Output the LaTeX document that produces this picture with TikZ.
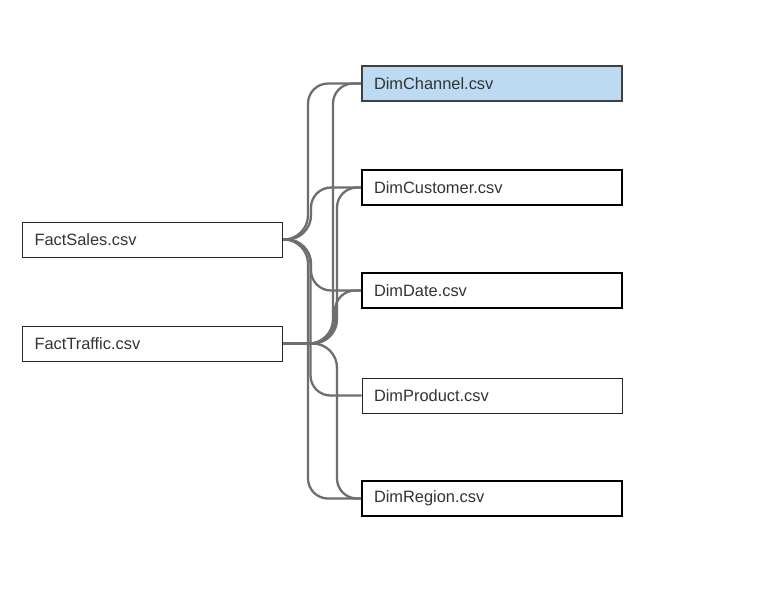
\documentclass[tikz,border=0pt]{standalone}
\usepackage{fontspec}
\setmainfont{Liberation Sans}
\usetikzlibrary{backgrounds,shadows,calc}
\definecolor{linkgray}{HTML}{6E6E6E}
\definecolor{selblue}{HTML}{BDDAF2}
\definecolor{txtgray}{HTML}{333333}
% #1 fact node, #2 dim node, #3 x offset of the vertical run from the dim's west side, #4 = 1 down / -1 up
\newcommand\tablelink[4]{%
  \path ($(#2.west |- #1.east)+({#3},0)$) coordinate (#1#2corner);
  \draw[link] (#1.east)
    -- ($(#1#2corner)+(-24,0)$)
    .. controls ($(#1#2corner)+(-11,0)$) and ($(#1#2corner)+(0,{#4*11})$)
    .. ($(#1#2corner)+(0,{#4*24})$)
    -- ($(#2.west)+({#3},{-20*#4})$)
    .. controls ($(#2.west)+({#3},{-9*#4})$) and ($(#2.west)+({#3+9},0)$)
    .. ($(#2.west)+({#3+20},0)$)
    -- (#2.west);}
\begin{document}
\begin{tikzpicture}[x=1pt,y=-1pt,
  tblbase/.style={rectangle, minimum height=35pt, text width=236pt, align=left,
    inner xsep=12pt, inner ysep=0pt, font=\fontsize{16.4}{19}\selectfont,
    text=txtgray, fill=white,
    drop shadow={shadow xshift=0.6pt, shadow yshift=-1.2pt, opacity=0.18, fill=black}},
  thinbox/.style={tblbase, draw=black!85, line width=1pt},
  thickbox/.style={tblbase, draw=black, line width=2pt},
  selbox/.style={thickbox, draw=black!75, fill=selblue},
  link/.style={draw=linkgray, line width=2.3pt}]
\useasboundingbox (0,0) rectangle (757,590);

\node[thinbox]  (fs) at (152.5,239.5) {FactSales.csv};
\node[thinbox]  (ft) at (152.5,343.5) {FactTraffic.csv};
\node[selbox]   (ch) at (492,83.5)  {DimChannel.csv};
\node[thickbox] (cu) at (492,187.5) {DimCustomer.csv};
\node[thickbox] (dt) at (492,290.5) {DimDate.csv};
\node[thinbox]  (pr) at (492,395.5) {DimProduct.csv};
\node[thickbox] (rg) at (492,498.5) {DimRegion.csv};

\begin{scope}[on background layer]
  \fill[white] (0,0) rectangle (757,590);
  % FactSales links
  \tablelink{fs}{ch}{-53}{-1}
  \tablelink{fs}{cu}{-50}{-1}
  \tablelink{fs}{dt}{-50}{1}
  \tablelink{fs}{pr}{-51}{1}
  \tablelink{fs}{rg}{-53}{1}
  % FactTraffic links
  \tablelink{ft}{ch}{-28}{-1}
  \tablelink{ft}{cu}{-24}{-1}
  \tablelink{ft}{dt}{-26}{-1}
  \tablelink{ft}{rg}{-24}{1}
\end{scope}
\end{tikzpicture}
\end{document}
